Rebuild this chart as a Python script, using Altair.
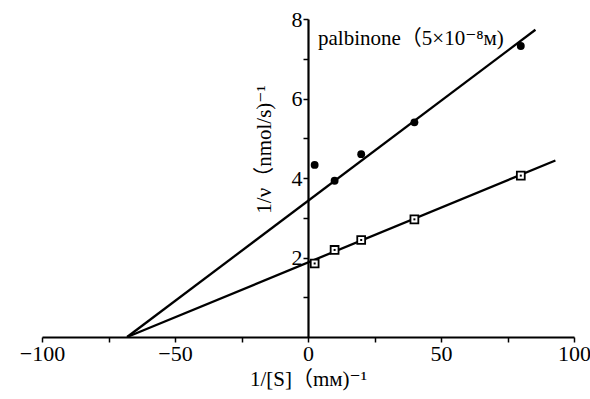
import altair as alt
import pandas as pd

# ---- data ----
inv_s = [2.5, 10, 20, 40, 80]
inv_v_palbinone = [4.33, 3.93, 4.60, 5.40, 7.32]
inv_v_control = [1.85, 2.19, 2.44, 2.96, 4.06]

fit_palb_x = [-68, 85.5]
fit_palb_y = [0, 7.73]
fit_ctrl_x = [-68, 93]
fit_ctrl_y = [0, 4.44]

x_ticks = [-100, -75, -50, -25, 0, 25, 50, 75, 100]
y_ticks = [1, 2, 3, 4, 5, 6, 7, 8]
annotation = "palbinone（5×10⁻⁸ᴍ)"
x_title = "1/[S]（mᴍ)⁻¹"
y_title = "1/ν（nmol/s)⁻¹"

FONT = "Liberation Serif, DejaVu Serif, Noto Sans CJK JP"

pts = pd.DataFrame({"x": inv_s * 2,
                    "y": inv_v_palbinone + inv_v_control,
                    "series": ["palbinone"] * 5 + ["control"] * 5})
fits = pd.DataFrame({"x": fit_palb_x + fit_ctrl_x,
                     "y": fit_palb_y + fit_ctrl_y,
                     "series": ["palbinone"] * 2 + ["control"] * 2})

xscale = alt.Scale(domain=[-100, 100], nice=False, zero=False)
yscale = alt.Scale(domain=[0, 8], nice=False)

xaxis = alt.Axis(values=x_ticks, labelExpr="datum.value % 50 == 0 ? datum.label : ''",
                 grid=False, domainColor="black", domainWidth=2.2, tickColor="black",
                 tickWidth=1.5, tickSize=5, labelFont=FONT, labelFontSize=22,
                 labelColor="black", labelPadding=1, title=x_title, titleFont=FONT,
                 titleFontSize=21, titleFontWeight="normal", titleColor="black",
                 titlePadding=4, labelFlush=False)
yaxis = alt.Axis(values=y_ticks, labelExpr="datum.value % 2 == 0 ? datum.label : ''",
                 grid=False, domainColor="black", domainWidth=2.2, tickColor="black",
                 tickWidth=1.5, tickSize=5, labelFont=FONT, labelFontSize=22,
                 labelColor="black", labelPadding=1, title=y_title, titleFont=FONT,
                 titleFontSize=21, titleFontWeight="normal", titleColor="black",
                 titleX=-34, titleY=130, offset=-266)

base_x = alt.X("x:Q", scale=xscale, axis=xaxis)
base_y = alt.Y("y:Q", scale=yscale, axis=yaxis)

lines = alt.Chart(fits).mark_line(color="black", strokeWidth=2.3).encode(
    x=base_x, y=base_y, detail="series:N")

circles = alt.Chart(pts).transform_filter(alt.datum.series == "palbinone").mark_circle(
    color="black", opacity=1, size=62).encode(x=base_x, y=base_y)

squares = alt.Chart(pts).transform_filter(alt.datum.series == "control").mark_point(
    shape="square", filled=True, fill="white", stroke="black", strokeWidth=1.8,
    size=62, opacity=1).encode(x=base_x, y=base_y)

dots = alt.Chart(pts).transform_filter(alt.datum.series == "control").mark_square(
    color="black", size=4, opacity=1).encode(x=base_x, y=base_y)

label = alt.Chart(pd.DataFrame({"t": [annotation]})).mark_text(
    align="left", baseline="middle", font=FONT, fontSize=21, color="black").encode(
    x=alt.value(276), y=alt.value(20), text="t:N")

chart = alt.layer(lines, circles, squares, dots, label).properties(
    width=532, height=318,
    autosize=alt.AutoSizeParams(type="none"),
    padding={"left": 42, "top": 19, "right": 16, "bottom": 62},
    background="white",
).configure_view(stroke=None)

chart.save("out.html", embed_options={"renderer": "svg", "actions": False})
